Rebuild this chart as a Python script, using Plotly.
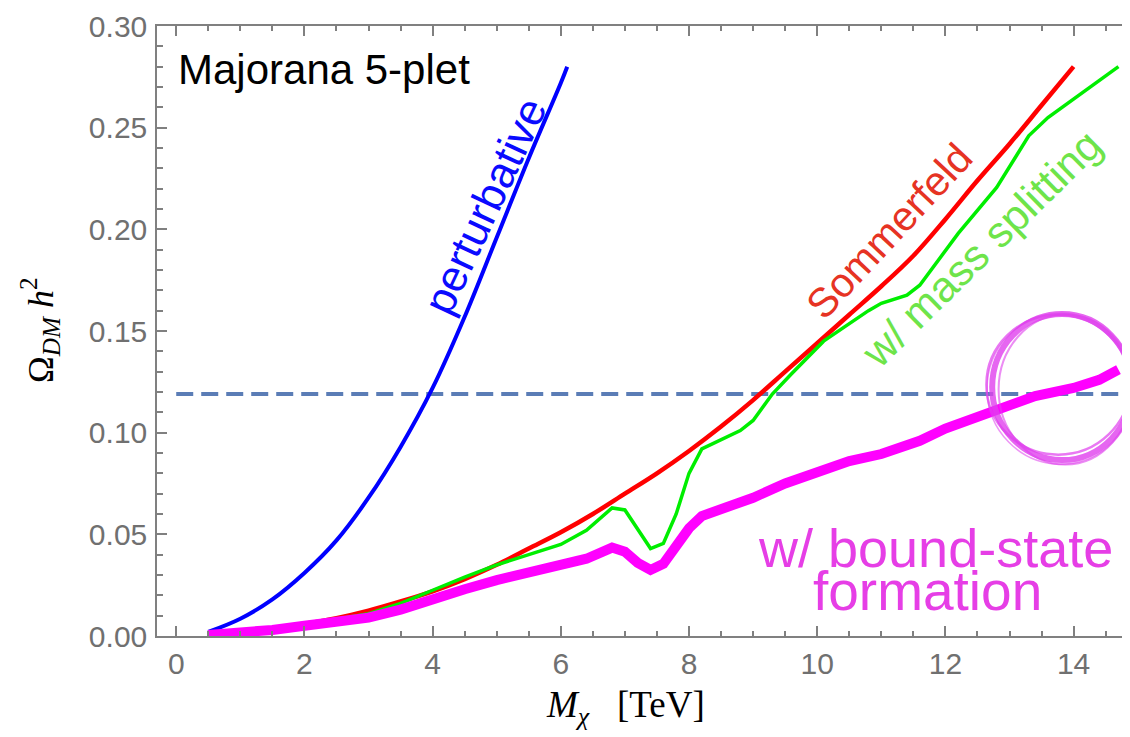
import plotly.graph_objects as go

# ---------------- data ----------------
pert_m = [0.5, 1.0, 1.5, 2.0, 2.5, 3.0, 3.5, 4.0, 4.5, 5.0, 5.5, 6.0, 6.1]
pert_omega = [0.002, 0.0085, 0.018, 0.031, 0.047, 0.068, 0.093, 0.122, 0.157, 0.196, 0.235, 0.272, 0.280]

som_m = [0.5, 1.0, 1.5, 2.0, 2.5, 3.0, 3.5, 4.0, 4.5, 5.0, 5.5, 6.0, 6.5, 7.0, 7.5, 8.0,
         8.5, 9.0, 9.5, 10.0, 10.5, 11.0, 11.5, 12.0, 12.5, 13.0, 13.5, 14.0]
som_omega = [0.001, 0.002, 0.0038, 0.006, 0.0088, 0.0125, 0.017, 0.022, 0.028, 0.035, 0.043,
             0.051, 0.060, 0.070, 0.080, 0.091, 0.103, 0.116, 0.130, 0.144, 0.158, 0.172,
             0.187, 0.205, 0.224, 0.242, 0.261, 0.280]

split_m = [0.5, 1.0, 1.5, 2.0, 2.5, 3.0, 3.5, 4.0, 4.5, 5.0, 5.5, 6.0, 6.4, 6.8, 7.0, 7.4,
           7.6, 7.8, 8.0, 8.2, 8.8, 9.0, 9.3, 9.6, 10.1, 10.8, 11.0, 11.4, 11.6, 12.2, 12.8,
           13.3, 13.6, 14.7]
split_omega = [0.001, 0.002, 0.0038, 0.0058, 0.0082, 0.011, 0.016, 0.0225, 0.029, 0.035, 0.040,
               0.045, 0.052, 0.063, 0.062, 0.043, 0.0455, 0.060, 0.080, 0.092, 0.101, 0.106,
               0.119, 0.129, 0.145, 0.160, 0.1636, 0.1676, 0.1725, 0.198, 0.2206, 0.246,
               0.255, 0.280]

bsf_m = [0.5, 1.0, 1.5, 2.0, 2.5, 3.0, 3.5, 4.0, 4.5, 5.0, 5.5, 6.0, 6.4, 6.8, 7.0, 7.2,
         7.4, 7.6, 7.8, 8.0, 8.2, 8.6, 9.0, 9.5, 10.0, 10.5, 11.0, 11.4, 11.6, 12.0, 12.5,
         13.0, 13.4, 14.0, 14.4, 14.7]
bsf_omega = [0.0005, 0.0015, 0.003, 0.005, 0.0068, 0.009, 0.013, 0.0185, 0.023, 0.0275, 0.031,
             0.034, 0.038, 0.0435, 0.0415, 0.036, 0.0325, 0.0355, 0.045, 0.053, 0.059, 0.063,
             0.068, 0.075, 0.081, 0.086, 0.0895, 0.093, 0.096, 0.102, 0.108, 0.114, 0.118,
             0.122, 0.126, 0.131]

observed_omega = 0.119
observed_m = [0.0, 15.0]

x_ticks = [0, 2, 4, 6, 8, 10, 12, 14]
y_ticks = [0.00, 0.05, 0.10, 0.15, 0.20, 0.25, 0.30]
y_ticklabels = ["0.00", "0.05", "0.10", "0.15", "0.20", "0.25", "0.30"]

# highlight ellipse (data units)
circle_cx, circle_cy, circle_rx, circle_ry = 13.82, 0.1224, 1.09, 0.0359

# ---------------- figure ----------------
fig = go.Figure()

fig.add_trace(go.Scatter(x=observed_m, y=[observed_omega] * len(observed_m), mode="lines",
                         line=dict(color="#5b7db6", width=4, dash="17px,8px"),
                         showlegend=False, hoverinfo="skip"))
fig.add_trace(go.Scatter(x=pert_m, y=pert_omega, mode="lines",
                         line=dict(color="#0000ff", width=4, shape="spline"), showlegend=False))
fig.add_trace(go.Scatter(x=som_m, y=som_omega, mode="lines",
                         line=dict(color="#ff0000", width=4.5, shape="spline"), showlegend=False))
fig.add_trace(go.Scatter(x=split_m, y=split_omega, mode="lines",
                         line=dict(color="#00ee00", width=3.5), showlegend=False))
fig.add_trace(go.Scatter(x=bsf_m, y=bsf_omega, mode="lines",
                         line=dict(color="#ff00ff", width=10), showlegend=False))

# hand-drawn style highlight circle (several slightly offset strokes)
strokes = [(0, 0, 0, 0, 6, 0.8), (-0.06, 0.0012, 0.03, -0.0015, 2.5, 0.7),
           (0.05, -0.0012, -0.05, 0.001, 2, 0.6), (-0.02, -0.0008, 0.06, 0.0012, 1.5, 0.55)]
for dx, dy, drx, dry, w, op in strokes:
    fig.add_shape(type="circle", xref="x", yref="y",
                  x0=circle_cx + dx - (circle_rx + drx), x1=circle_cx + dx + (circle_rx + drx),
                  y0=circle_cy + dy - (circle_ry + dry), y1=circle_cy + dy + (circle_ry + dry),
                  line=dict(color="#e040ee", width=w), opacity=op, layer="above")

sans = "Liberation Sans, Arial, Helvetica, sans-serif"
serif = "Liberation Serif, Times New Roman, serif"

ann = [
    dict(text="Majorana 5-plet", x=0.0, y=0.2785, xanchor="left", yanchor="middle",
         font=dict(size=42, color="#000000", family=sans)),
    dict(text="perturbative", x=4.82, y=0.2115, textangle=-65,
         font=dict(size=44, color="#0a0aff", family=sans)),
    dict(text="Sommerfeld", x=11.13, y=0.199, textangle=-47,
         font=dict(size=41, color="#e63323", family=sans)),
    dict(text="w/ mass splitting", x=12.55, y=0.1905, textangle=-44.5,
         font=dict(size=43, color="#6ee44a", family=sans)),
    dict(text="w/ bound-state", x=11.85, y=0.0432,
         font=dict(size=54, color="#e63ee6", family=sans)),
    dict(text="formation", x=11.72, y=0.0222,
         font=dict(size=55, color="#e63ee6", family=sans)),
]
for a in ann:
    a.setdefault("xanchor", "center")
    a.setdefault("yanchor", "middle")
    fig.add_annotation(xref="x", yref="y", showarrow=False, **a)

# axis titles
fig.add_annotation(xref="paper", yref="paper", x=0.482, y=-0.118, showarrow=False,
                   text="<i>M</i><sub><i>χ</i></sub>&nbsp;&nbsp;&nbsp;[TeV]", xanchor="center",
                   yanchor="middle", font=dict(size=37, color="#000000", family=serif))
fig.add_annotation(xref="paper", yref="paper", x=-0.120, y=0.502, showarrow=False, textangle=-90,
                   text="Ω<sub><i>DM</i></sub> <i>h</i><sup>2</sup>", xanchor="center",
                   yanchor="middle", font=dict(size=36, color="#000000", family=serif))

axis_color = "#808080"
# The page body has an 8px margin, so the figure is made 8px smaller and the margins
# reduced to keep the plot area where the reference has it.
fig.update_layout(
    width=1122, height=729,
    margin=dict(l=149, r=0, t=18, b=101),
    paper_bgcolor="white", plot_bgcolor="white",
    xaxis=dict(range=[-0.3, 14.88], tickvals=x_ticks, ticks="inside", ticklen=10, tickwidth=1.5,
               tickcolor=axis_color, showline=True, linecolor=axis_color, linewidth=1.5,
               mirror="ticks", showgrid=False, zeroline=False,
               tickfont=dict(size=30, color="#707070", family=sans),
               minor=dict(dtick=0.5, tick0=0, ticks="inside", ticklen=5, tickcolor=axis_color,
                          tickwidth=1.5, showgrid=False)),
    yaxis=dict(range=[0, 0.30], tickvals=y_ticks, ticktext=y_ticklabels, ticks="inside",
               ticklen=10, tickwidth=1.5, tickcolor=axis_color, showline=True,
               linecolor=axis_color, linewidth=1.5, mirror=False, showgrid=False,
               zeroline=False, ticklabelstandoff=2,
               tickfont=dict(size=30, color="#707070", family=sans),
               minor=dict(dtick=0.01, tick0=0, ticks="inside", ticklen=6, tickcolor=axis_color,
                          tickwidth=1.5, showgrid=False)),
)

fig.write_html("out.html")
